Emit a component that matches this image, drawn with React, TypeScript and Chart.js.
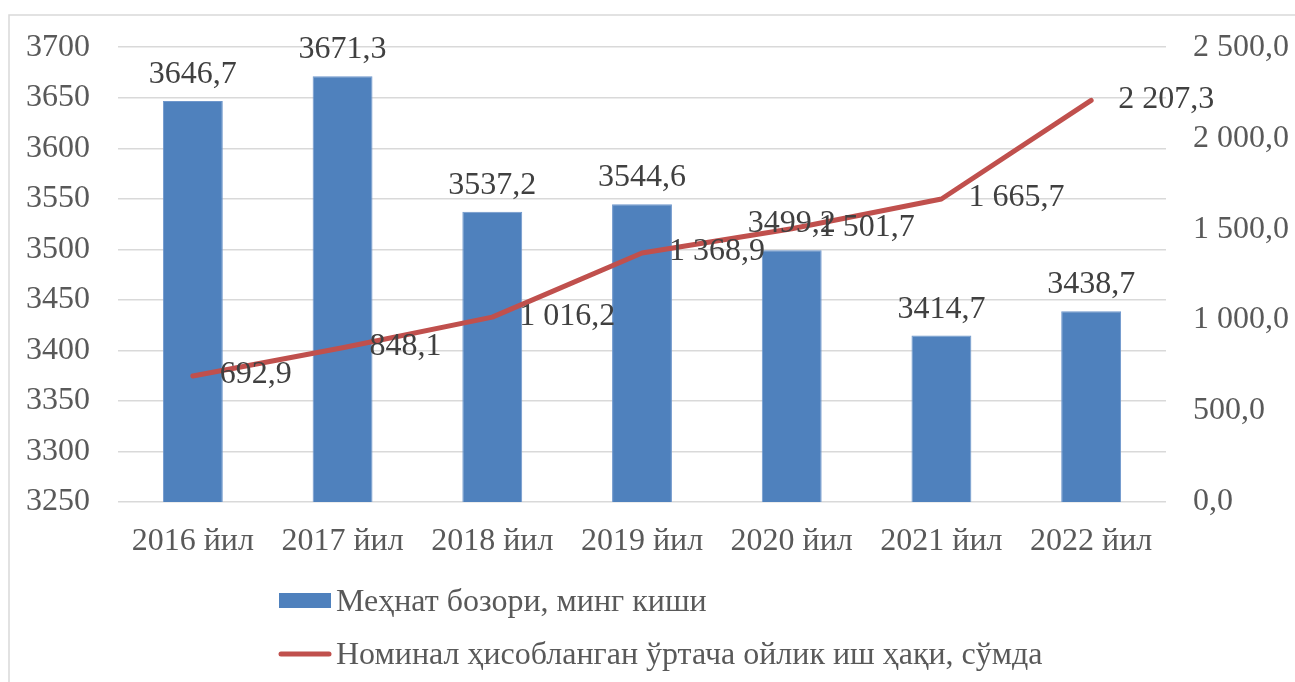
import React, { useEffect, useRef } from "react";
import { Chart, registerables } from "chart.js";

Chart.register(...registerables);

const categories = ["2016 йил", "2017 йил", "2018 йил", "2019 йил", "2020 йил", "2021 йил", "2022 йил"];
const laborMarket = [3646.7, 3671.3, 3537.2, 3544.6, 3499.2, 3414.7, 3438.7];
const wages = [692.9, 848.1, 1016.2, 1368.9, 1501.7, 1665.7, 2207.3];
const leftMin = 3250;
const leftMax = 3700;
const leftStep = 50;
const rightMin = 0;
const rightMax = 2500;
const rightStep = 500;
const seriesNames = ["Меҳнат бозори, минг киши", "Номинал ҳисобланган ўртача ойлик иш ҳақи, сўмда"];

const FONT = "'Liberation Serif', 'Times New Roman', serif";
const FS = 32;
const BAR_COLOR = "#4F81BD";
const LINE_COLOR = "#C0504D";
const GRID_COLOR = "#D9D9D9";
const LABEL_COLOR = "#404040";
const AXIS_COLOR = "#595959";

function fmtComma(v: number): string {
  return v.toFixed(1).replace(".", ",");
}
function fmtSpace(v: number): string {
  const [i, d] = v.toFixed(1).split(".");
  return i.replace(/\B(?=(\d{3})+(?!\d))/g, " ") + "," + d;
}

const framePlugin = {
  id: "frame",
  beforeDraw(chart: any) {
    const ctx = chart.ctx;
    ctx.save();
    ctx.strokeStyle = GRID_COLOR;
    ctx.lineWidth = 1.5;
    ctx.beginPath();
    ctx.moveTo(9, chart.height);
    ctx.lineTo(9, 15);
    ctx.lineTo(chart.width, 15);
    ctx.stroke();
    ctx.restore();
  },
};

const labelsPlugin = {
  id: "dataLabels",
  afterDatasetsDraw(chart: any) {
    const ctx = chart.ctx;
    ctx.save();
    ctx.font = `${FS}px ${FONT}`;
    ctx.fillStyle = LABEL_COLOR;
    const barMeta = chart.getDatasetMeta(0);
    barMeta.data.forEach((el: any, i: number) => {
      ctx.textAlign = "center";
      ctx.textBaseline = "alphabetic";
      ctx.fillText(fmtComma(laborMarket[i]), el.x, el.y - 18);
    });
    const lineMeta = chart.getDatasetMeta(1);
    lineMeta.data.forEach((el: any, i: number) => {
      ctx.textAlign = "left";
      ctx.textBaseline = "middle";
      ctx.fillText(fmtSpace(wages[i]), el.x + 27, el.y - 1);
    });
    ctx.restore();
  },
  afterDraw(chart: any) {
    const ctx = chart.ctx;
    ctx.save();
    ctx.font = `${FS}px ${FONT}`;
    ctx.textAlign = "left";
    ctx.textBaseline = "middle";
    // legend item 1
    ctx.fillStyle = BAR_COLOR;
    ctx.fillRect(279, 593, 52, 15);
    ctx.fillStyle = AXIS_COLOR;
    ctx.fillText(seriesNames[0], 336, 603);
    // legend item 2
    ctx.strokeStyle = LINE_COLOR;
    ctx.lineWidth = 5;
    ctx.lineCap = "round";
    ctx.beginPath();
    ctx.moveTo(281, 654);
    ctx.lineTo(329, 654);
    ctx.stroke();
    ctx.fillText(seriesNames[1], 336, 656);
    ctx.restore();
  },
};

export default function App() {
  const ref = useRef<HTMLCanvasElement | null>(null);
  useEffect(() => {
    document.body.style.margin = "0";
    const canvas = ref.current;
    if (!canvas) return;
    const chart = new Chart(canvas, {
      type: "bar",
      data: {
        labels: categories,
        datasets: [
          {
            type: "bar",
            label: seriesNames[0],
            data: laborMarket,
            backgroundColor: BAR_COLOR,
            borderColor: "#6F97CC",
            borderWidth: 1,
            barPercentage: 0.4,
            categoryPercentage: 1,
            yAxisID: "y",
            order: 2,
          } as any,
          {
            type: "line",
            label: seriesNames[1],
            data: wages,
            borderColor: LINE_COLOR,
            backgroundColor: LINE_COLOR,
            borderWidth: 5,
            pointRadius: 0,
            tension: 0,
            borderCapStyle: "round",
            borderJoinStyle: "round",
            yAxisID: "y1",
            order: 1,
          } as any,
        ],
      },
      options: {
        responsive: false,
        animation: false,
        layout: { padding: { top: 46, left: 0, right: 0, bottom: 0 } },
        plugins: {
          legend: { display: false },
          tooltip: { enabled: false },
        },
        scales: {
          x: {
            grid: { display: false, drawTicks: false },
            border: { display: false },
            ticks: {
              color: AXIS_COLOR,
              font: { family: FONT, size: FS },
              padding: 20,
              maxRotation: 0,
              autoSkip: false,
            },
            afterFit(scale: any) {
              scale.height = 180;
            },
          },
          y: {
            position: "left",
            min: leftMin,
            max: leftMax,
            grid: { color: GRID_COLOR, lineWidth: 1.5, drawTicks: false },
            border: { display: false },
            ticks: {
              stepSize: leftStep,
              color: AXIS_COLOR,
              font: { family: FONT, size: FS },
              padding: 28,
              callback: (v: any) => String(v),
            },
            afterFit(scale: any) {
              scale.width = 118;
            },
          },
          y1: {
            position: "right",
            min: rightMin,
            max: rightMax,
            grid: { display: false, drawTicks: false },
            border: { display: false },
            ticks: {
              stepSize: rightStep,
              color: AXIS_COLOR,
              font: { family: FONT, size: FS },
              padding: 27,
              callback: (v: any) => fmtSpace(Number(v)),
            },
            afterFit(scale: any) {
              scale.width = 129;
            },
          },
        },
      },
      plugins: [framePlugin, labelsPlugin],
    });
    return () => chart.destroy();
  }, []);
  return (
    <div style={{ width: 1295, height: 682, background: "#fff" }}>
      <canvas ref={ref} width={1295} height={682} style={{ display: "block" }} />
    </div>
  );
}
